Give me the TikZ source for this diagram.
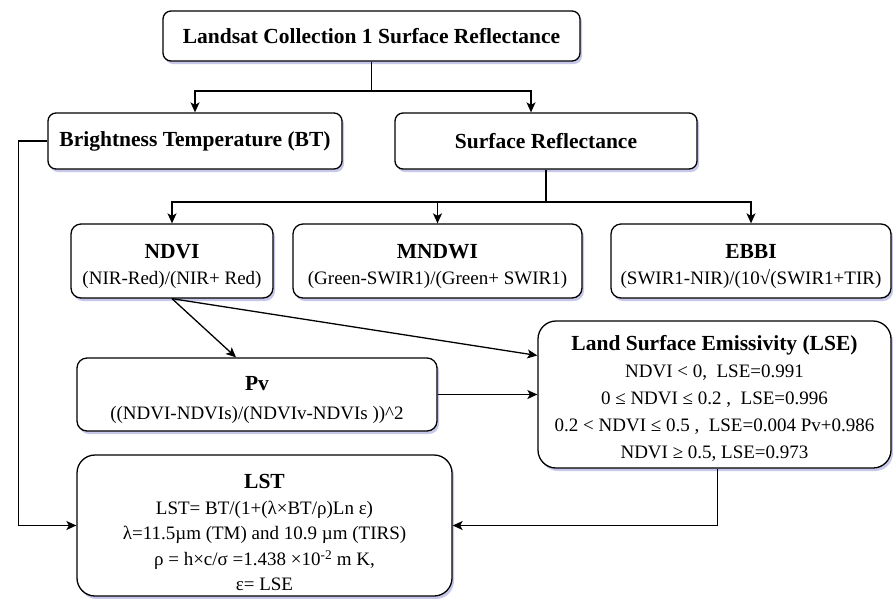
\documentclass[tikz,border=0pt]{standalone}
\usepackage{fontspec}
\setmainfont{Liberation Serif}
\usetikzlibrary{arrows.meta,shadows}
\tikzset{
  box/.style={draw, line width=1.3pt, rounded corners=8pt, fill=white, align=center, inner sep=1pt,
    drop shadow={shadow xshift=2pt, shadow yshift=-3pt, fill=blue!45!gray, opacity=0.3},
    font=\fontsize{19}{26.5}\selectfont},
  headbox/.style={box, font=\fontsize{21.5}{26}\selectfont\bfseries},
  arr/.style={-{Stealth[length=10pt,width=9pt,inset=2.5pt]}, line width=1.3pt},
  link/.style={line width=1.3pt}
}
\newcommand{\ttl}[2][25pt]{{\fontsize{21.5}{26}\selectfont\bfseries\rule{0pt}{#1}#2}}
\begin{document}
\begin{tikzpicture}[x=1pt,y=-1pt]
  \useasboundingbox (0,0) rectangle (893,598);
  \node[headbox, minimum width=417pt, minimum height=50pt] (top) at (371.5,36) {Landsat Collection 1 Surface Reflectance};
  \node[headbox, minimum width=294pt, minimum height=56pt] (bt) at (195,141) {Brightness Temperature (BT)};
  \node[headbox, minimum width=302pt, minimum height=56pt] (sr) at (546,141) {Surface Reflectance};
  \node[box, rounded corners=10pt, minimum width=202pt, minimum height=74pt] (ndvi) at (172,261) {\ttl{NDVI}\\(NIR-Red)/(NIR+ Red)};
  \node[box, rounded corners=10pt, minimum width=289pt, minimum height=74pt] (mndwi) at (437.5,261) {\ttl{MNDWI}\\(Green-SWIR1)/(Green+ SWIR1)};
  \node[box, rounded corners=10pt, minimum width=280pt, minimum height=74pt] (ebbi) at (751,261) {\ttl{EBBI}\\(SWIR1-NIR)/(10√(SWIR1+TIR)};
  \node[box, rounded corners=10pt, minimum width=360pt, minimum height=73pt] (pv) at (257,394.5) {\ttl{Pv}\\[2pt]((NDVI-NDVIs)/(NDVIv-NDVIs ))\textasciicircum 2};
  \node[box, rounded corners=18pt, minimum width=353pt, minimum height=147pt, font=\fontsize{19}{27}\selectfont] (lse) at (714.5,394.5) {\ttl[22pt]{Land Surface Emissivity (LSE)}\\NDVI < 0,\ \ LSE=0.991\\0 ≤ NDVI ≤ 0.2 ,\ \ LSE=0.996\\0.2 < NDVI ≤ 0.5 ,\ \ LSE=0.004 Pv+0.986\\NDVI ≥ 0.5, LSE=0.973};
  \node[box, rounded corners=18pt, minimum width=375pt, minimum height=141pt, font=\fontsize{19}{25.5}\selectfont] (lst) at (264.5,525.5) {\ttl[29pt]{LST}\\LST= BT/(1+(λ×BT/ρ)Ln ε)\\λ=11.5µm (TM) and 10.9 µm (TIRS)\\ρ = h×c/σ =1.438 ×10\textsuperscript{-2} m K,\\ε= LSE};
  \coordinate (j1) at (371.5,91);
  \coordinate (j2) at (546,202);
  \draw[link] (top.south) -- (j1);
  \draw[arr] (j1) -| (bt.north);
  \draw[arr] (j1) -| ([xshift=-15pt]sr.north);
  \draw[link] (sr.south) -- (j2);
  \draw[arr] (j2) -| (ndvi.north);
  \draw[arr] (j2) -| (mndwi.north);
  \draw[arr] (j2) -| (ebbi.north);
  \draw[arr] (ndvi.south) -- ([xshift=-21pt]pv.north);
  \draw[arr] (ndvi.south) -- ([yshift=39pt]lse.west);
  \draw[arr] (pv.east) -- (pv.east -| lse.west);
  \draw[arr] (bt.west) -- ++(-29,0) |- (lst.west);
  \draw[arr] ([xshift=3pt]lse.south) |- (lst.east);
\end{tikzpicture}
\end{document}
